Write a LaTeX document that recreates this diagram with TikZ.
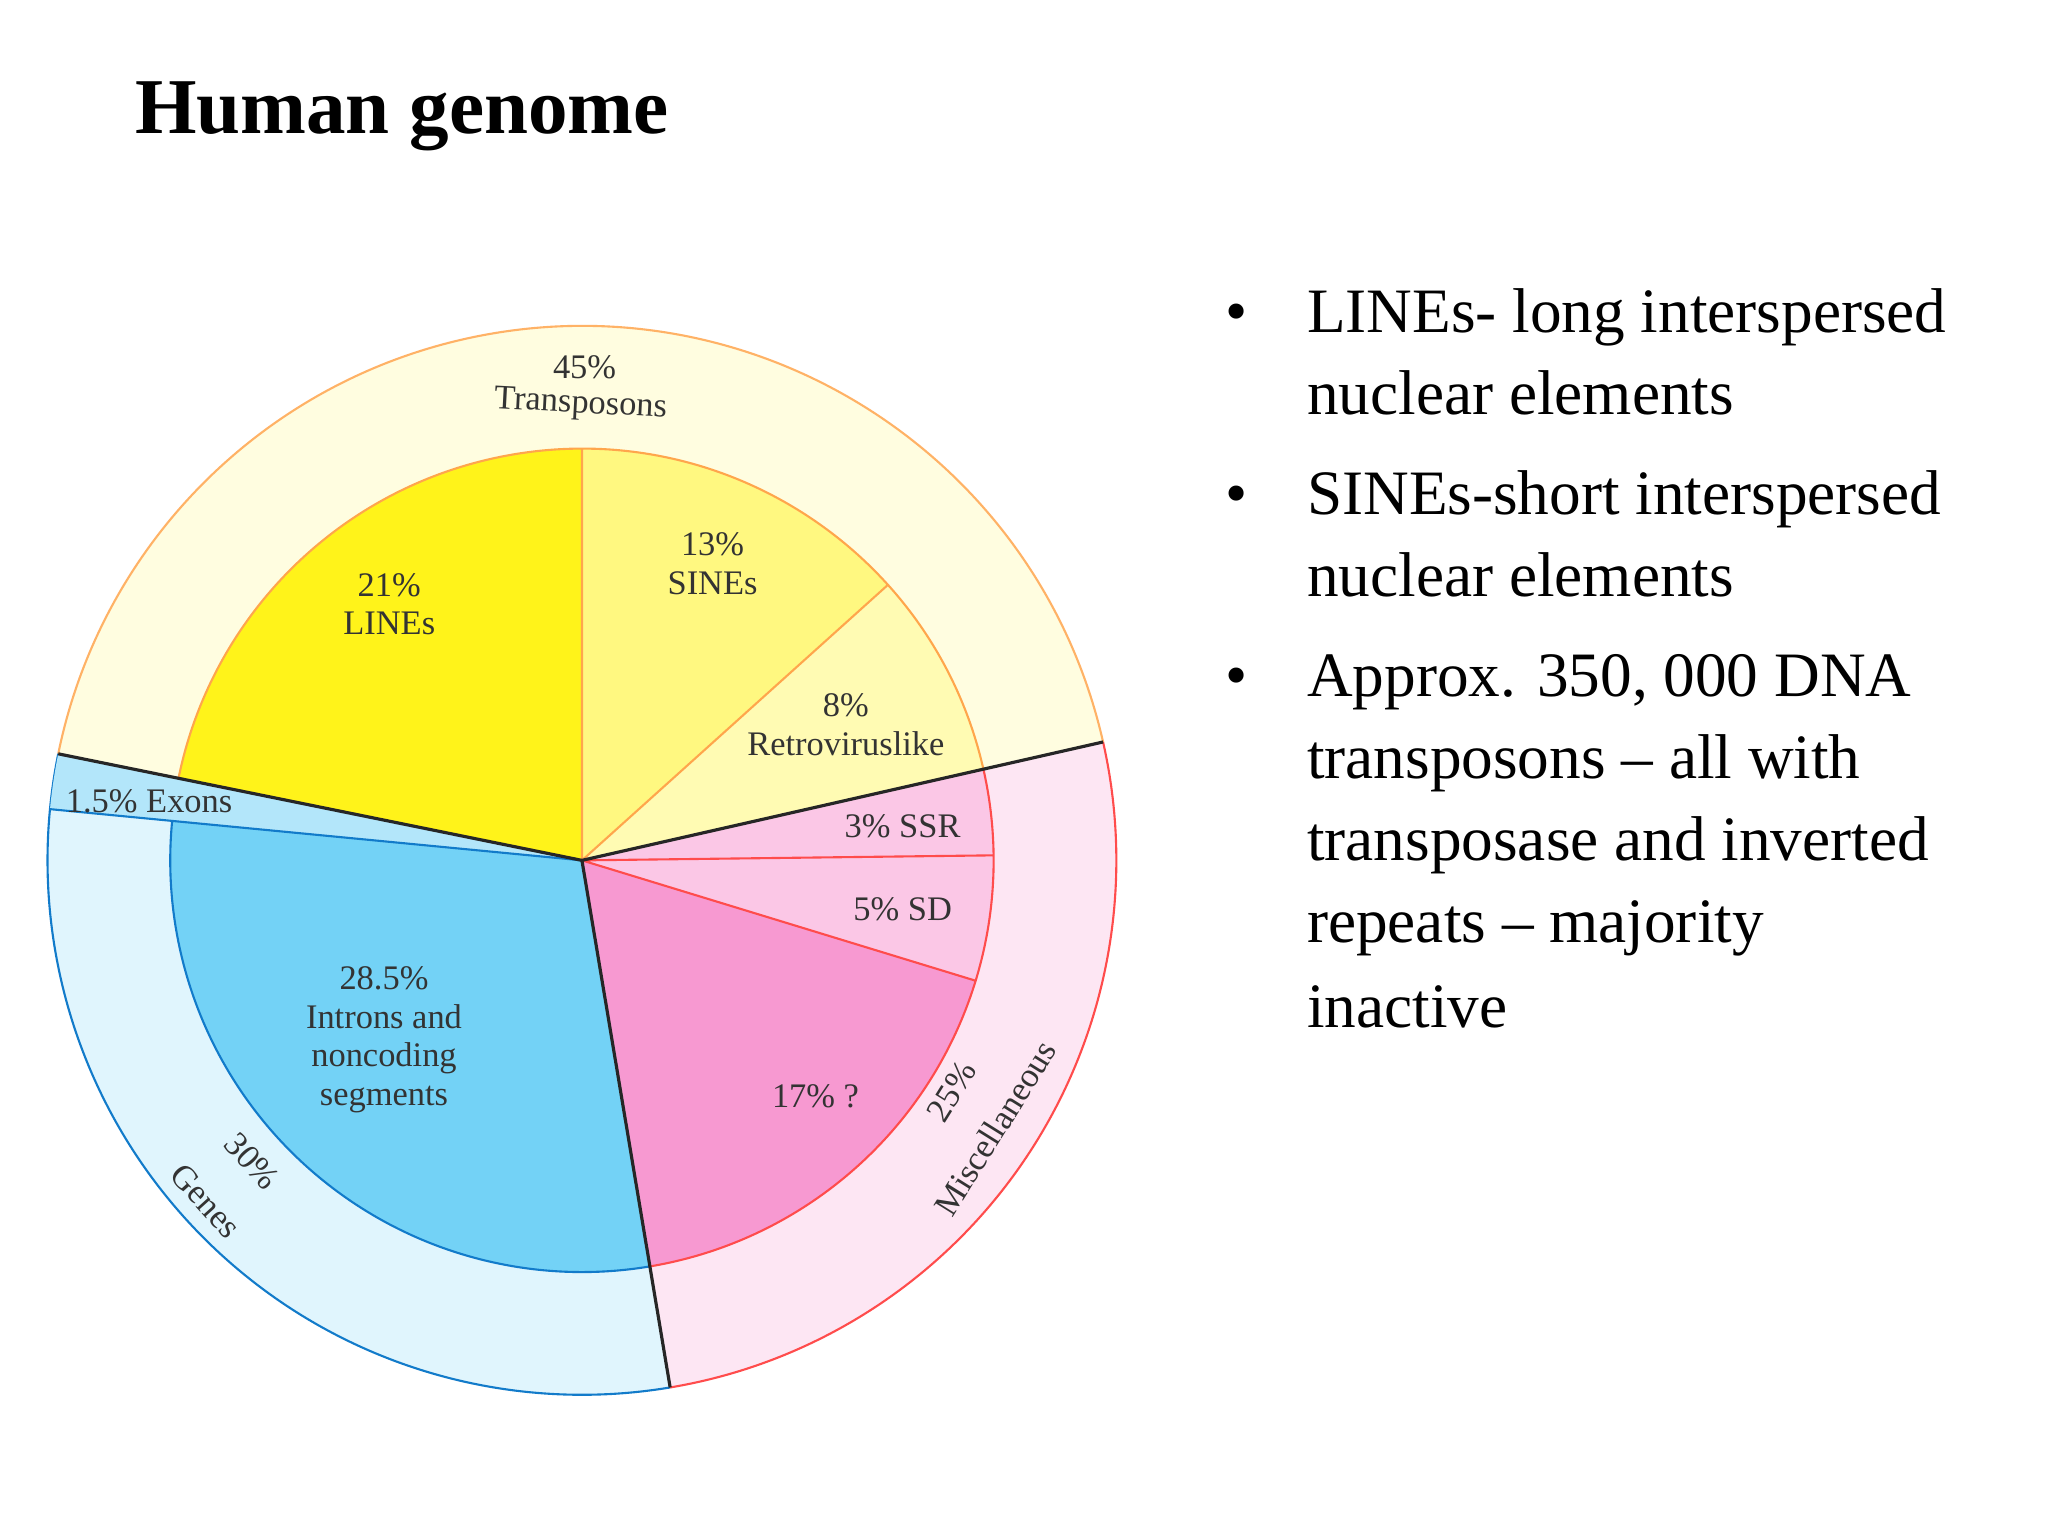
\documentclass[tikz,border=0pt]{standalone}
\usepackage{fontspec}
\setmainfont{Liberation Serif}
\begin{document}
\begin{tikzpicture}[x=0.0132cm,y=0.0132cm,
 lbl/.style={font=\fontsize{9.8pt}{11pt}\selectfont, align=center, text=black!80},
 bul/.style={font=\fontsize{18pt}{23pt}\selectfont, anchor=base west, inner sep=0pt},
 sep/.style={draw=black!85, line width=0.9pt}]
\useasboundingbox (0,0) rectangle (1552,1164);
\fill[white] (0,0) rectangle (1552,1164);
\node[anchor=west, font=\bfseries\fontsize{22.5pt}{25pt}\selectfont] (title) at (93,1076) {Human genome};
\begin{scope}[shift={(441,512)}]
 \coordinate (c) at (0,0);
 \fill[yellow!12] (12.8:312) arc (12.8:168.5:312) -- (168.5:405) arc (168.5:12.8:405) -- cycle;
 \fill[cyan!12] (168.5:312) arc (168.5:279.5:312) -- (279.5:405) arc (279.5:168.5:405) -- cycle;
 \fill[magenta!10] (279.5:312) arc (279.5:372.8:312) -- (372.8:405) arc (372.8:279.5:405) -- cycle;
 \draw[orange!60, line width=0.6pt] (12.8:405) arc (12.8:168.5:405);
 \draw[cyan!60!blue, line width=0.6pt] (168.5:405) arc (168.5:279.5:405);
 \draw[red!70, line width=0.6pt] (279.5:405) arc (279.5:372.8:405);
 \fill[yellow!100!orange!90] (0,0) -- (90:312) arc (90:168.5:312) -- cycle;
 \fill[cyan!30] (0,0) -- (168.5:405) arc (168.5:174.5:405) -- cycle;
 \fill[cyan!55] (0,0) -- (174.5:312) arc (174.5:279.5:312) -- cycle;
 \fill[magenta!40] (0,0) -- (279.5:312) arc (279.5:343:312) -- cycle;
 \fill[magenta!22] (0,0) -- (343:312) arc (343:372.8:312) -- cycle;
 \fill[yellow!30] (0,0) -- (12.8:312) arc (12.8:42:312) -- cycle;
 \fill[yellow!50] (0,0) -- (42:312) arc (42:90:312) -- cycle;
 \draw[orange!70, line width=0.6pt] (0,0) -- (90:312) (0,0) -- (42:312) (12.8:312) arc (12.8:168.5:312);
 \draw[cyan!60!blue, line width=0.6pt] (174.5:312) arc (174.5:279.5:312) (0,0) -- (174.5:312) -- (174.5:405);
 \draw[red!70, line width=0.6pt] (279.5:312) arc (279.5:372.8:312) (0,0)--(343:312) (0,0)--(0.7:312);
 \draw[sep] (0,0) -- (168.5:405);
 \draw[sep] (0,0) -- (279.5:405);
 \draw[sep] (0,0) -- (12.8:405);
\end{scope}
\node[lbl] (lines) at (295,706) {21\%\\LINEs};
\node[lbl] (sines) at (540,737) {13\%\\SINEs};
\node[lbl] (retro) at (641,615) {8\%\\Retroviruslike};
\node[lbl] (ssr) at (684,538) {3\% SSR};
\node[lbl] (sd) at (684,475) {5\% SD};
\node[lbl] (intr) at (291,376) {28.5\%\\Introns and\\noncoding\\segments};
\node[lbl] (q) at (618,333) {17\% ?};
\node[lbl] (ex) at (113,557) {1.5\% Exons};
\node[lbl] (t45) at (443,886) {45\%};
\node[lbl, rotate=-3] (tr) at (440,857) {Transposons};
\node[lbl, rotate=-48] (g30) at (191,284) {30\%};
\node[lbl, rotate=-48] (gen) at (156,254) {Genes};
\node[lbl, rotate=58] (m25) at (721,337) {25\%};
\node[lbl, rotate=58] (mis) at (754,309) {Miscellaneous};
\node[bul] (d1) at (928,912) {•};
\node[bul] (b1a) at (990,912) {LINEs- long interspersed};
\node[bul] (b1b) at (990,850) {nuclear elements};
\node[bul] (d2) at (928,774) {•};
\node[bul] (b2a) at (990,774) {SINEs-short interspersed};
\node[bul] (b2b) at (990,712) {nuclear elements};
\node[bul] (d3) at (928,636) {•};
\node[bul] (b3a) at (990,636) {Approx. 350, 000 DNA};
\node[bul] (b3b) at (990,574) {transposons – all with};
\node[bul] (b3c) at (990,512) {transposase and inverted};
\node[bul] (b3d) at (990,450) {repeats – majority};
\node[bul] (b3e) at (990,385) {inactive};
\end{tikzpicture}
\end{document}
